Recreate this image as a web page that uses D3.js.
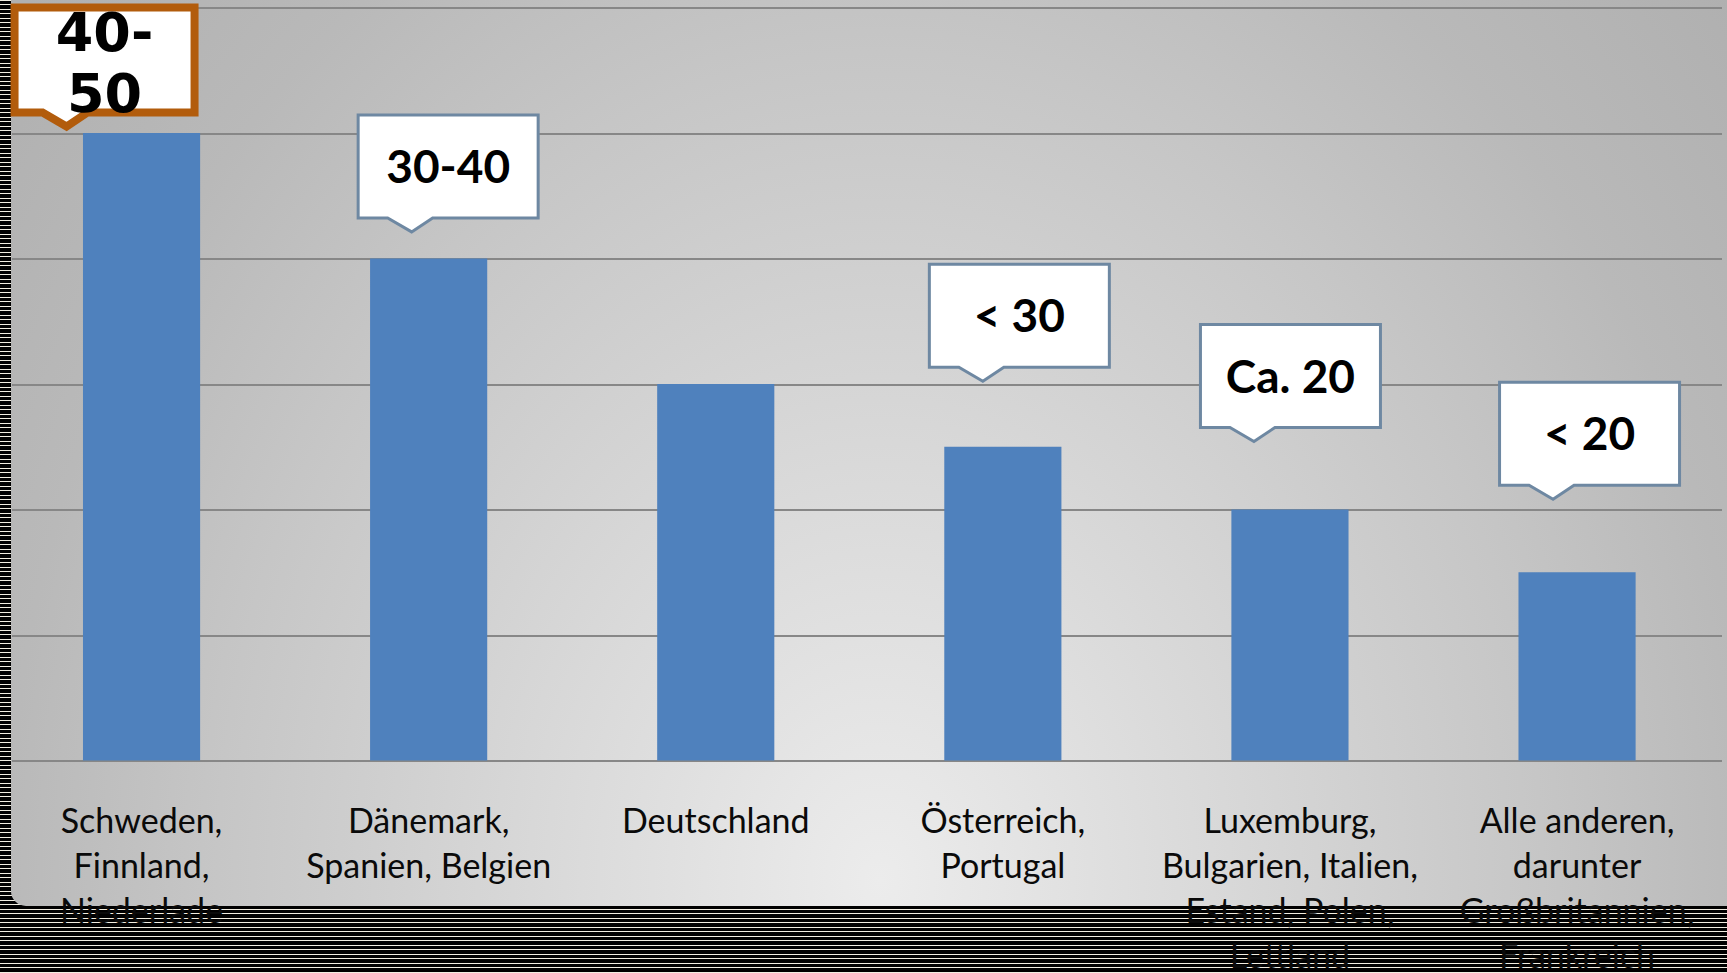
<!DOCTYPE html>
<html lang="de">
<head>
    <meta charset="UTF-8">
    <title>Länder nach Anteil</title>
    <script src="https://cdnjs.cloudflare.com/ajax/libs/d3/7.8.5/d3.min.js"></script>
    <style>
        body {
            margin: 0;
            background: #000;
            overflow: hidden;
        }
        svg {
            display: block;
        }
        .cat {
            font-family: Lato, "Open Sans", sans-serif;
            font-size: 34px;
            fill: #0a0a0a;
        }
        .grid line {
            stroke: #878787;
            stroke-width: 2;
            shape-rendering: crispEdges;
        }
        .bar {
            fill: #4f81bd;
        }
    </style>
</head>
<body>
    <div id="chart"></div>

    <script>
        // categories (one entry per bar, already split into lines)
        const categories = [
            ["Schweden,", "Finnland,", "Niederlade"],
            ["Dänemark,", "Spanien, Belgien"],
            ["Deutschland"],
            ["Österreich,", "Portugal"],
            ["Luxemburg,", "Bulgarien, Italien,", "Estand, Polen,", "Lettland"],
            ["Alle anderen,", "darunter", "Großbritannien,", "Frankreich"]
        ];
        const values = [5, 4, 3, 2.5, 2, 1.5];
        const rangeLabels = ["40-50", "30-40", null, "< 30", "Ca. 20", "< 20"];
        const yTicks = [0, 1, 2, 3, 4, 5, 6];

        // where the callout tips point (value level, shift from bar centre)
        const calloutLevel = [5.02, 4.2, null, 3.01, 2.53, 2.07];
        const calloutShift = [-75, -17, null, -20, -36, -24];

        const width = 1727, height = 973;
        const plotLeft = 12, plotRight = 1722;
        const bgBottom = 906;

        const keys = categories.map(c => c.join(" "));

        const x = d3.scaleBand()
            .domain(keys)
            .range([-2, 1720.6])
            .padding(0);

        const y = d3.scaleLinear()
            .domain([0, 6])
            .range([760.5, 7.5]);

        const svg = d3.select("#chart")
            .append("svg")
            .attr("width", width)
            .attr("height", height);

        const defs = svg.append("defs");

        // black/cream scan stripes round the edges
        const pat = defs.append("pattern")
            .attr("id", "stripes")
            .attr("patternUnits", "userSpaceOnUse")
            .attr("width", 10)
            .attr("height", 9);
        pat.append("rect").attr("width", 10).attr("height", 9).attr("fill", "#000");
        pat.append("rect").attr("y", 0).attr("width", 10).attr("height", 1).attr("fill", "#f1ede1");
        pat.append("rect").attr("y", 4).attr("width", 10).attr("height", 1).attr("fill", "#f1ede1");

        const grad = defs.append("radialGradient")
            .attr("id", "bg")
            .attr("gradientUnits", "userSpaceOnUse")
            .attr("cx", 880).attr("cy", 880).attr("r", 1200)
            .attr("gradientTransform", "translate(880,880) scale(0.92,1.15) translate(-880,-880)");
        [[0, "#ececec"], [0.27, "#dbdbdb"], [0.6, "#c6c6c6"], [0.79, "#b9b9b9"], [1, "#b0b0b0"]]
            .forEach(s => grad.append("stop").attr("offset", s[0]).attr("stop-color", s[1]));

        svg.append("rect")
            .attr("width", width)
            .attr("height", height)
            .attr("fill", "url(#stripes)");

        svg.append("path")
            .attr("d", `M${plotLeft - 1},0H${width}V${bgBottom}H${plotLeft + 14}A15,15 0 0 1 ${plotLeft - 1},${bgBottom - 15}Z`)
            .attr("fill", "url(#bg)");

        // gridlines
        svg.append("g")
            .attr("class", "grid")
            .attr("transform", `translate(${plotLeft},0)`)
            .call(d3.axisLeft(y).tickValues(yTicks).tickSize(-(plotRight - plotLeft)).tickFormat(""))
            .call(g => g.select(".domain").remove());

        // bars
        const barW = x.bandwidth() * 0.408;
        svg.selectAll(".bar")
            .data(values)
            .enter().append("rect")
            .attr("class", "bar")
            .attr("x", (d, i) => x(keys[i]) + (x.bandwidth() - barW) / 2)
            .attr("width", barW)
            .attr("y", d => y(d))
            .attr("height", d => y(0) - y(d));

        // callouts
        rangeLabels.forEach((label, i) => {
            if (!label) return;
            const first = i === 0;
            const w = first ? 188 : 183;
            const h = first ? 113 : 106;
            const sw = first ? 8 : 3;
            const stroke = first ? "#b25c0c" : "#6e88a2";
            const tipX = x(keys[i]) + x.bandwidth() / 2 + calloutShift[i];
            const tipY = y(calloutLevel[i]);
            const left = tipX - (first ? 56 : 55);
            const bottom = tipY - 14;
            const top = bottom - h;
            const x0 = left + sw / 2, x1 = left + w - sw / 2;
            const y0 = top + sw / 2, y1 = bottom - sw / 2;

            const g = svg.append("g").attr("class", "callout");
            g.append("path")
                .attr("d", `M${x0},${y0}H${x1}V${y1}H${tipX + 21}L${tipX},${tipY - sw / 2}L${tipX - 24},${y1}H${x0}Z`)
                .attr("fill", "#fff")
                .attr("stroke", stroke)
                .attr("stroke-width", sw)
                .attr("stroke-linejoin", "miter");

            const fontFamily = first ? "'DejaVu Sans', sans-serif" : "Lato, sans-serif";
            const fontSize = first ? 54 : 46;
            const cap = fontSize * (first ? 0.729 : 0.72);
            const lineH = first ? 61 : 52;

            // break at the hyphen when the text does not fit the box
            const probe = g.append("text")
                .attr("font-family", fontFamily)
                .attr("font-size", fontSize)
                .attr("font-weight", "bold")
                .text(label);
            let lines = [label];
            if (probe.node().getComputedTextLength() > w - 2 * sw - 8 && label.includes("-")) {
                const k = label.indexOf("-") + 1;
                lines = [label.slice(0, k), label.slice(k)];
            }
            probe.remove();

            const cy = top + h / 2 + (first ? 2 : 0);
            const b1 = cy + (cap - (lines.length - 1) * lineH) / 2;
            g.selectAll("text.val")
                .data(lines)
                .enter().append("text")
                .attr("class", "val")
                .attr("x", left + w / 2)
                .attr("y", (d, j) => b1 + j * lineH)
                .attr("text-anchor", "middle")
                .attr("font-family", fontFamily)
                .attr("font-size", fontSize)
                .attr("font-weight", "bold")
                .attr("fill", "#000")
                .text(d => d);
        });

        // category labels under the bars
        const labels = svg.selectAll(".cat")
            .data(categories)
            .enter().append("text")
            .attr("class", "cat")
            .attr("text-anchor", "middle")
            .attr("transform", (d, i) => `translate(${x(keys[i]) + x.bandwidth() / 2},${y(0) + 72})`);

        labels.selectAll("tspan")
            .data(d => d)
            .enter().append("tspan")
            .attr("x", 0)
            .attr("y", (d, j) => j * 45)
            .text(d => d);
    </script>
</body>
</html>
